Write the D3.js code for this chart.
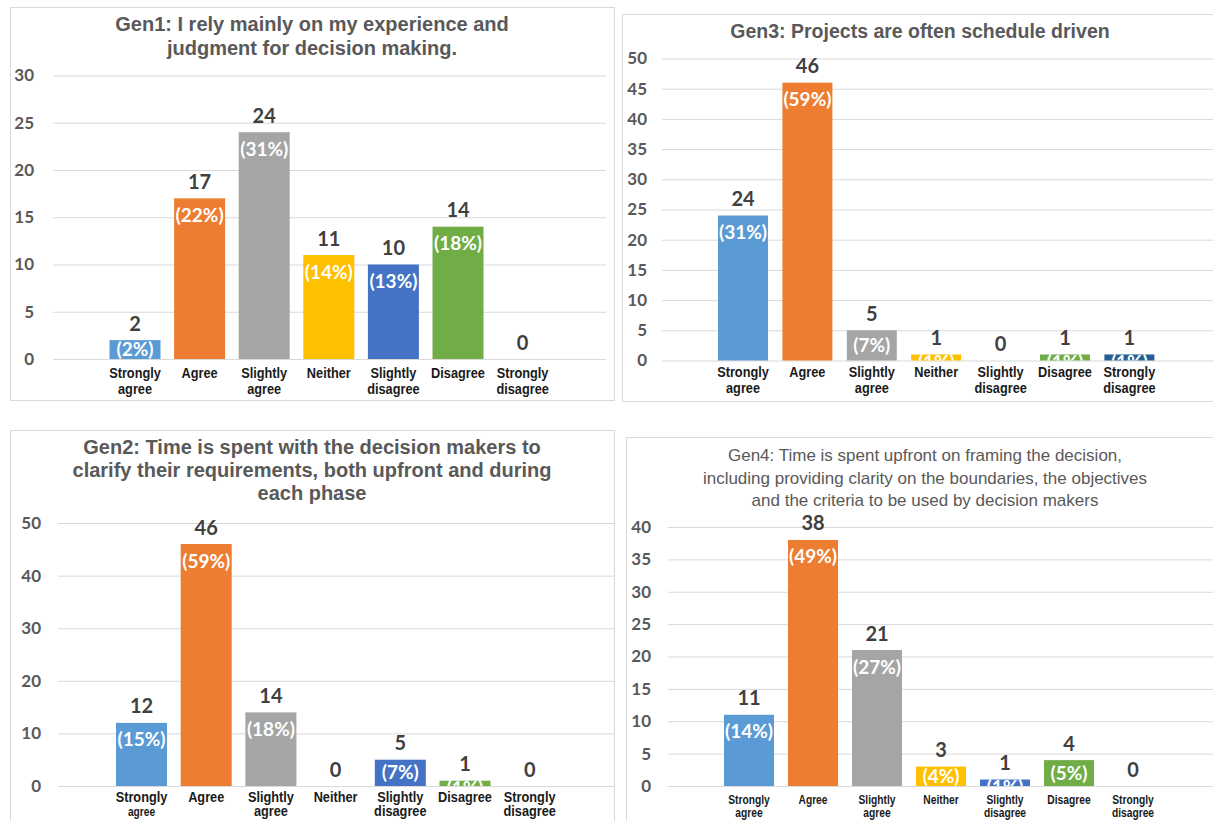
<!DOCTYPE html>
<html>
<head>
<meta charset="utf-8">
<script src="https://cdn.jsdelivr.net/npm/d3@7"></script>
<style>
  body { margin: 0; background: #fff; }
  text { font-family: "Liberation Sans", Arial, sans-serif; }
</style>
</head>
<body>
<svg id="chart"></svg>
<script>
// answer categories shared by all four questions
const categories = ["Strongly agree", "Agree", "Slightly agree", "Neither",
                    "Slightly disagree", "Disagree", "Strongly disagree"];

const gen1Counts = [2, 17, 24, 11, 10, 14, 0];
const gen1Pct    = [2, 22, 31, 14, 13, 18, 0];
const gen3Counts = [24, 46, 5, 1, 0, 1, 1];
const gen3Pct    = [31, 59, 7, 1, 0, 1, 1];
const gen2Counts = [12, 46, 14, 0, 5, 1, 0];
const gen2Pct    = [15, 59, 18, 0, 7, 1, 0];
const gen4Counts = [11, 38, 21, 3, 1, 4, 0];
const gen4Pct    = [14, 49, 27, 4, 1, 5, 0];

const gen1Title = ["Gen1: I rely mainly on my experience and", "judgment for decision making."];
const gen3Title = ["Gen3: Projects are often schedule driven"];
const gen2Title = ["Gen2: Time is spent with the decision makers to",
                   "clarify their requirements, both upfront and during", "each phase"];
const gen4Title = ["Gen4: Time is spent upfront on framing the decision,",
                   "including providing clarity on the boundaries, the objectives",
                   "and the criteria to be used by decision makers"];

const barColors = ["#5b9bd5", "#ed7d31", "#a5a5a5", "#ffc000", "#4472c4", "#70ad47", "#255e91"];

const W = 1213, H = 821;
const svg = d3.select("#chart").attr("width", W).attr("height", H);

const panels = [
  {key: "g1", counts: gen1Counts, pct: gen1Pct, title: gen1Title,
   box: [10, 7, 604, 393], titleX: 312, titleY: 31, titleGap: 24, titleSize: 20, titleWeight: "bold",
   yMax: 30, yStep: 5, y0: 359, yTop: 75.5, gridX: [53, 606], tickX: 34,
   c0: 135, step: 64.6, barW: 51, catY: 378, catSize: 15, catGap: 16, catScale: 0.85},
  {key: "g3", counts: gen3Counts, pct: gen3Pct, title: gen3Title,
   box: [622, 14, 600, 387], titleX: 920, titleY: 38, titleGap: 24, titleSize: 19.5, titleWeight: "bold",
   yMax: 50, yStep: 5, y0: 360.5, yTop: 58.5, gridX: [662, 1213], tickX: 647,
   c0: 743, step: 64.4, barW: 50, catY: 377, catSize: 15, catGap: 16, catScale: 0.85},
  {key: "g2", counts: gen2Counts, pct: gen2Pct, title: gen2Title,
   box: [10, 430, 604, 400], titleX: 312, titleY: 454, titleGap: 23, titleSize: 20, titleWeight: "bold",
   yMax: 50, yStep: 10, y0: 786, yTop: 523, gridX: [58, 614], tickX: 41,
   c0: 141.5, step: 64.7, barW: 51, catY: 802, catSize: 15, catGap: 14, catScale: 0.85},
  {key: "g4", counts: gen4Counts, pct: gen4Pct, title: gen4Title,
   box: [626, 437, 600, 400], titleX: 925, titleY: 461, titleGap: 22.5, titleSize: 17, titleWeight: "normal",
   yMax: 40, yStep: 5, y0: 786, yTop: 527, gridX: [668, 1213], tickX: 651,
   c0: 749, step: 64, barW: 50, catY: 804, catSize: 12.5, catGap: 13, catScale: 0.82}
];

panels.forEach(p => {
  const g = svg.append("g");
  const rows = categories.map((c, i) => ({cat: c, idx: i, count: p.counts[i], pct: p.pct[i]}));

  // panel frame
  g.append("rect")
    .attr("x", p.box[0] + 0.5).attr("y", p.box[1] + 0.5)
    .attr("width", p.box[2]).attr("height", p.box[3])
    .attr("fill", "#fff").attr("stroke", "#d9d9d9");

  g.selectAll(".title").data(p.title).enter().append("text")
    .attr("x", p.titleX)
    .attr("y", (d, i) => p.titleY + i * p.titleGap)
    .attr("text-anchor", "middle")
    .style("font-size", p.titleSize + "px")
    .style("font-weight", p.titleWeight)
    .style("fill", "#595959")
    .text(d => d);

  const y = d3.scaleLinear().domain([0, p.yMax]).range([p.y0, p.yTop]);
  const x = d3.scaleBand()
    .domain(categories)
    .range([p.c0 - p.step / 2, p.c0 - p.step / 2 + p.step * categories.length])
    .paddingInner(1 - p.barW / p.step)
    .paddingOuter((1 - p.barW / p.step) / 2);
  const cx = c => x(c) + x.bandwidth() / 2;

  const ticks = d3.range(0, p.yMax + 0.1, p.yStep);

  // gridlines
  g.append("g")
    .attr("transform", `translate(${p.gridX[0]},0)`)
    .call(d3.axisRight(y).tickValues(ticks).tickSize(p.gridX[1] - p.gridX[0]).tickFormat(""))
    .call(a => a.select(".domain").remove())
    .call(a => a.selectAll("line").attr("stroke", "#d9d9d9"));

  // y tick labels
  g.append("g")
    .attr("transform", `translate(${p.tickX},0)`)
    .call(d3.axisLeft(y).tickValues(ticks).tickSize(0).tickPadding(0))
    .call(a => a.select(".domain").remove())
    .call(a => a.selectAll("text")
      .style("font-family", "Lato, 'Open Sans', sans-serif")
      .style("font-size", "17px").style("font-weight", "bold")
      .attr("fill", "#595959"));

  g.selectAll(".bar").data(rows).enter().append("rect")
    .attr("x", d => x(d.cat))
    .attr("width", x.bandwidth())
    .attr("y", d => y(d.count))
    .attr("height", d => p.y0 - y(d.count))
    .attr("fill", d => barColors[d.idx]);

  // value labels above bars
  g.selectAll(".val").data(rows).enter().append("text")
    .attr("x", d => cx(d.cat))
    .attr("y", d => y(d.count) - 9.5)
    .attr("text-anchor", "middle")
    .style("font-family", "Lato, 'Open Sans', sans-serif")
    .style("font-size", "20px").style("font-weight", "bold")
    .style("fill", "#404040")
    .text(d => d.count);

  // white percentage labels, cut off at the baseline
  const clipId = "clip-" + p.key;
  g.append("clipPath").attr("id", clipId)
    .append("rect").attr("x", p.gridX[0]).attr("y", p.yTop - 30)
    .attr("width", p.gridX[1] - p.gridX[0]).attr("height", p.y0 - p.yTop + 30);
  g.append("g").attr("clip-path", `url(#${clipId})`)
    .selectAll("text").data(rows.filter(d => d.count > 0)).enter().append("text")
    .attr("x", d => cx(d.cat))
    .attr("y", d => {
      const h = p.y0 - y(d.count);
      return y(d.count) + Math.min(17, Math.max(h / 2, 8)) + 6.5;
    })
    .attr("text-anchor", "middle")
    .style("font-family", "Lato, 'Open Sans', sans-serif")
    .style("font-size", "19px").style("font-weight", "bold")
    .style("fill", "#fff")
    .text(d => `(${d.pct}%)`);

  // category labels (two lines, narrow bold)
  g.selectAll(".cat").data(rows).enter().append("text")
    .attr("transform", d => `translate(${cx(d.cat)},${p.catY}) scale(${p.catScale},1)`)
    .attr("text-anchor", "middle")
    .style("font-size", p.catSize + "px").style("font-weight", "bold")
    .style("fill", "#1a1a1a")
    .each(function(d) {
      const words = d.cat.split(" ");
      const t = d3.select(this);
      t.append("tspan").attr("x", 0).text(words[0]);
      if (words[1]) {
        const second = t.append("tspan").attr("x", 0).attr("dy", p.catGap).text(words[1]);
        // Gen2's first label has a smaller second line
        if (p.key === "g2" && d.idx === 0) second.style("font-size", (p.catSize - 3) + "px");
      }
    });
});
</script>
</body>
</html>
